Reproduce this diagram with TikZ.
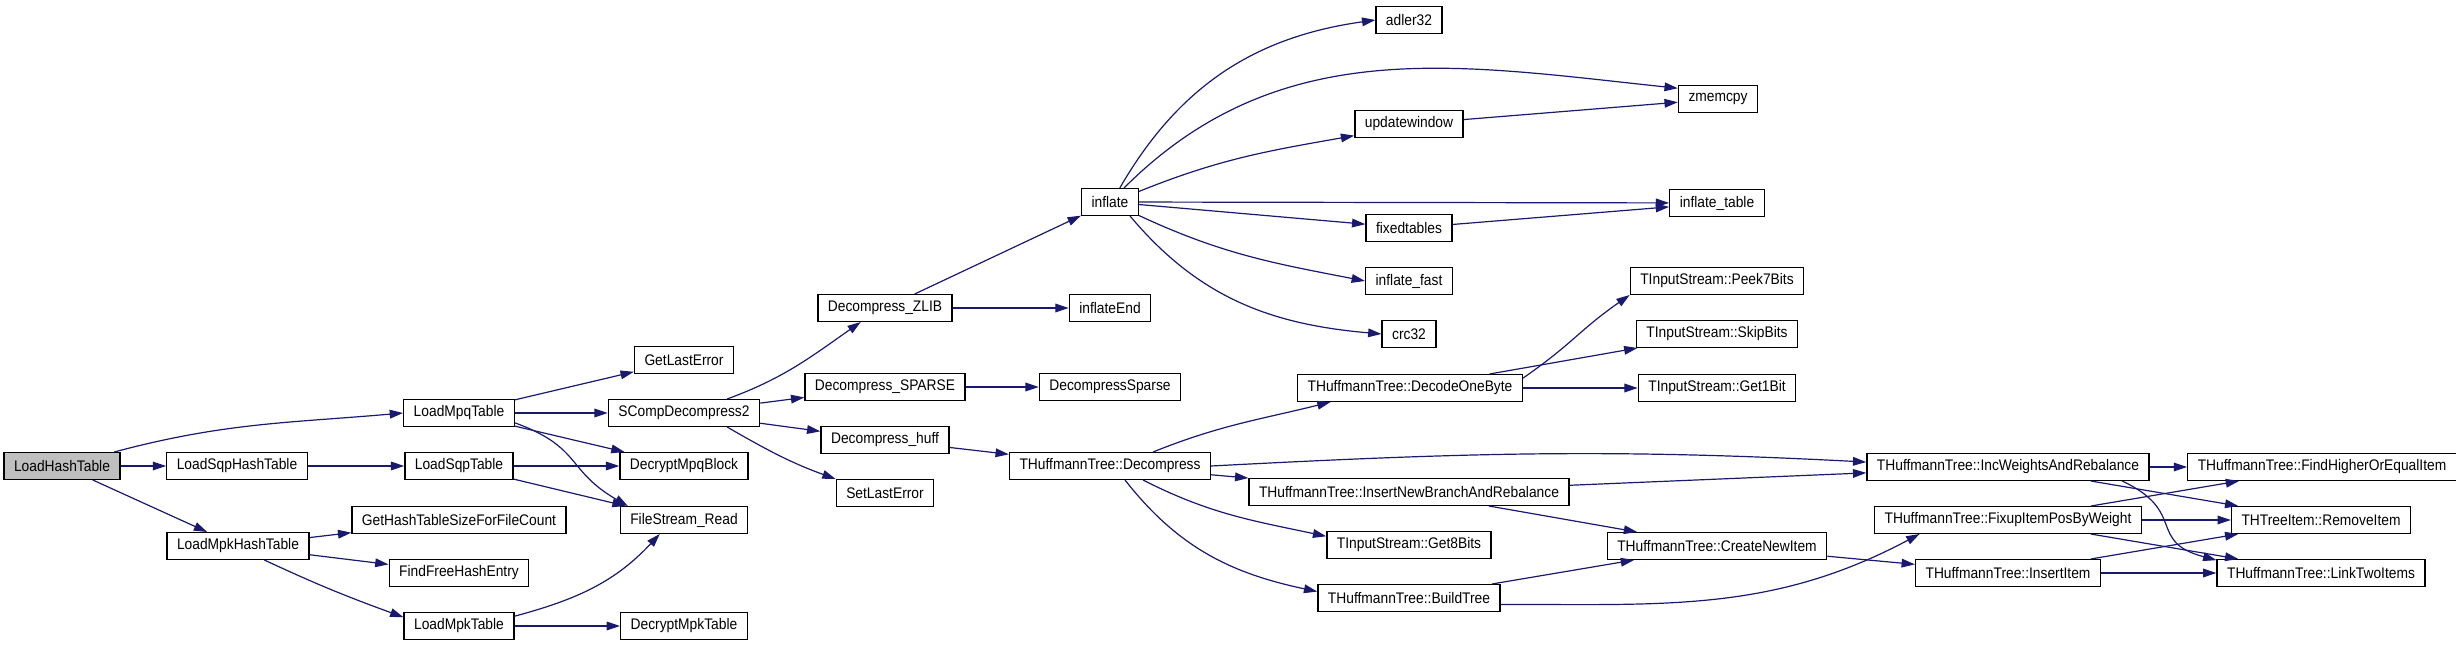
\documentclass[tikz,border=0pt]{standalone}
\usepackage{fontspec}
\setmainfont[FakeStretch=0.9]{Liberation Sans}
\usetikzlibrary{arrows.meta}
\definecolor{edgeblue}{HTML}{191970}
\tikzset{
  fn/.style={draw=black, fill=white, line width=1pt, inner xsep=7.5pt, inner ysep=0pt,
             minimum height=20pt, font=\fontsize{11.5}{13}\selectfont},   % function box
  root/.style={fn, fill=black!25},                                         % start function
  ce/.style={draw=edgeblue, line width=0.9pt, -{Triangle[length=10pt,width=6.5pt]}}, % call
}

\begin{document}
\begin{tikzpicture}[x=0.75pt, y=0.75pt]
  \useasboundingbox (0,0) rectangle (2456,647);
  % ---------------- loaders ----------------
  \node[root] (lht)  at (62,181)   {LoadHashTable};
  \node[fn]   (lsht) at (237,181)  {LoadSqpHashTable};
  \node[fn]   (lmht) at (238,101)  {LoadMpkHashTable};
  \node[fn]   (lmqt) at (459,234)  {LoadMpqTable};
  \node[fn]   (lsqt) at (459,181)  {LoadSqpTable};
  \node[fn]   (ghts) at (459,127)  {GetHashTableSizeForFileCount};
  \node[fn]   (ffhe) at (459,74)   {FindFreeHashEntry};
  \node[fn]   (lmkt) at (459,21)   {LoadMpkTable};
  \node[fn]   (gle)  at (684,287)  {GetLastError};
  \node[fn]   (scd)  at (684,234)  {SCompDecompress2};
  \node[fn]   (dmb)  at (684,181)  {DecryptMpqBlock};
  \node[fn]   (fsr)  at (684,127)  {FileStream\_Read};
  \node[fn]   (dmkt) at (684,21)   {DecryptMpkTable};
  % ---------------- decompressors ----------------
  \node[fn]   (dz)   at (885,339)  {Decompress\_ZLIB};
  \node[fn]   (dsp)  at (885,260)  {Decompress\_SPARSE};
  \node[fn]   (dh)   at (885,207)  {Decompress\_huff};
  \node[fn]   (sle)  at (885,154)  {SetLastError};
  \node[fn]   (infl) at (1110,445) {inflate};
  \node[fn]   (iend) at (1110,339) {inflateEnd};
  \node[fn]   (dspr) at (1110,260) {DecompressSparse};
  \node[fn]   (hdec) at (1110,181) {THuffmannTree::Decompress};
  % ---------------- zlib / huffman internals ----------------
  \node[fn]   (adl)  at (1409,627) {adler32};
  \node[fn]   (upw)  at (1409,523) {updatewindow};
  \node[fn]   (fxt)  at (1409,419) {fixedtables};
  \node[fn]   (ifst) at (1409,366) {inflate\_fast};
  \node[fn]   (crc)  at (1409,313) {crc32};
  \node[fn]   (dob)  at (1410,259) {THuffmannTree::DecodeOneByte};
  \node[fn]   (inb)  at (1409,155) {THuffmannTree::InsertNewBranchAndRebalance};
  \node[fn]   (g8)   at (1409,102) {TInputStream::Get8Bits};
  \node[fn]   (bt)   at (1409,49)  {THuffmannTree::BuildTree};
  \node[fn]   (zm)   at (1718,548) {zmemcpy};
  \node[fn]   (itab) at (1717,444) {inflate\_table};
  \node[fn]   (p7)   at (1717,366) {TInputStream::Peek7Bits};
  \node[fn]   (skb)  at (1717,313) {TInputStream::SkipBits};
  \node[fn]   (g1)   at (1717,259) {TInputStream::Get1Bit};
  \node[fn]   (cni)  at (1717,101) {THuffmannTree::CreateNewItem};
  \node[fn]   (iwr)  at (2008,180) {THuffmannTree::IncWeightsAndRebalance};
  \node[fn]   (fix)  at (2008,127) {THuffmannTree::FixupItemPosByWeight};
  \node[fn]   (ins)  at (2008,74)  {THuffmannTree::InsertItem};
  \node[fn]   (fhe)  at (2322,180) {THuffmannTree::FindHigherOrEqualItem};
  \node[fn]   (rmi)  at (2321,127) {THTreeItem::RemoveItem};
  \node[fn]   (ltw)  at (2321,74)  {THuffmannTree::LinkTwoItems};
  % straight calls
  \foreach \u/\v in {lht/lsht,lht/lmht,lsht/lsqt,lmht/ghts,lmht/ffhe,lmqt/gle,lmqt/scd,
                     lmqt/dmb,lsqt/dmb,lsqt/fsr,lmkt/dmkt,scd/dsp,scd/dh,dz/infl,dz/iend,
                     dsp/dspr,dh/hdec,infl/itab,infl/fxt,upw/zm,fxt/itab,hdec/inb,dob/skb,
                     dob/g1,inb/iwr,inb/cni,bt/cni,cni/ins,iwr/fhe,iwr/rmi,fix/fhe,fix/rmi,
                     fix/ltw,ins/rmi,ins/ltw}
    \draw[ce] (\u)--(\v);
  % curved calls
  \draw[ce] (lht.15)   to[out=15,in=185] (lmqt.west);
  \draw[ce] (lmht.-28) to[out=-25,in=160] (lmkt.171);
  \draw[ce] (lmqt.-10) to[out=-20,in=150,looseness=1.3] (fsr.166);
  \draw[ce] (lmkt.10)  to[out=15,in=-133] (fsr.-150);
  \draw[ce] (scd.18)   to[out=20,in=-145] (dz.-150);
  \draw[ce] (scd.-18)  to[out=-30,in=160] (sle.north west);
  \draw[ce] (infl.55)  to[out=60,in=188] (adl.west);
  \draw[ce] (infl.45)  to[out=45,in=174] (zm.165);
  \draw[ce] (infl.20)  to[out=22,in=190] (upw.-168);
  \draw[ce] (infl.-25) to[out=-25,in=169] (ifst.west);
  \draw[ce] (infl.-35) to[out=-50,in=175] (crc.west);
  \draw[ce] (hdec.18)  to[out=22,in=-166] (dob.-170);
  \draw[ce] (hdec.east) to[out=3,in=177] (iwr.178);
  \draw[ce] (hdec.-23) to[out=-27,in=168] (g8.174);
  \draw[ce] (hdec.-43) to[out=-52,in=168] (bt.176);
  \draw[ce] (dob.5)    to[out=35,in=-145,looseness=1.2] (p7.south west);
  \draw[ce] (bt.-4)    to[out=0,in=-152] (fix.-171);
  \draw[ce] (iwr.-7)   to[out=-25,in=165,looseness=1.5] (ltw.173);
\end{tikzpicture}
\end{document}
